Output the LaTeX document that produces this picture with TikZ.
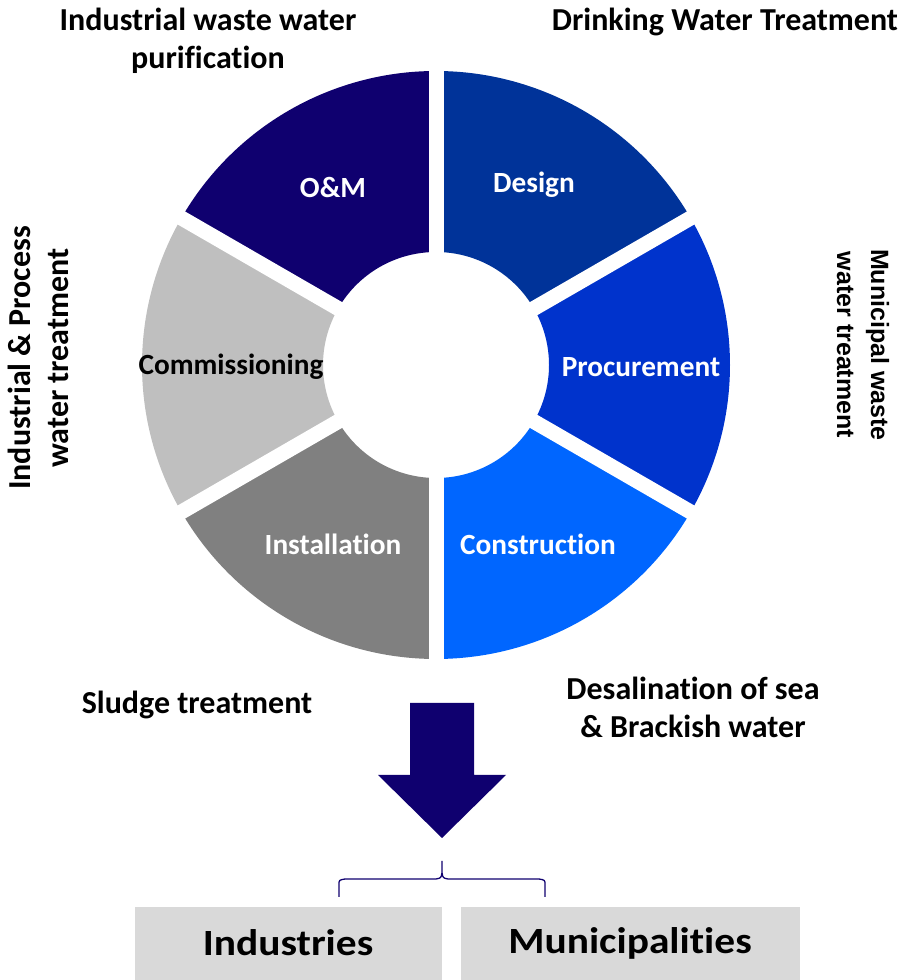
\documentclass[tikz,border=0pt]{standalone}
\usepackage{fontspec}
\usepackage{graphicx}
\setmainfont{Carlito}[Ligatures=CommonOff]
\newfontfamily\arialf{Liberation Sans}
\usetikzlibrary{calc}
\definecolor{cnavy}{HTML}{0F006F}
\definecolor{cdesign}{HTML}{003399}
\definecolor{cproc}{HTML}{0033CC}
\definecolor{cconst}{HTML}{0066FF}
\definecolor{cinst}{HTML}{808080}
\definecolor{ccomm}{HTML}{BFBFBF}
\definecolor{cbox}{HTML}{D9D9D9}
\tikzset{
  seglabel/.style={font=\fontsize{29.3}{34}\selectfont\bfseries, text=white, inner sep=0pt},
  heading/.style={font=\fontsize{32}{38}\selectfont\bfseries, text=black, align=center, inner sep=0pt},
  boxtext/.style={font=\fontsize{37}{44}\selectfont\bfseries, text=black, inner sep=0pt},
  gap/.style={white, line width=15pt},
}
\newcommand{\ringseg}[3]{%
  \fill[#3] ($(C)+(#1:294)$) arc[start angle=#1, end angle=#2, radius=294]
    -- ($(C)+(#2:113)$) arc[start angle=#2, end angle=#1, radius=113] -- cycle;}
\begin{document}
\begin{tikzpicture}[x=1pt,y=1pt]
\useasboundingbox (0,0) rectangle (903,980);
\coordinate (C) at (436,615);
% ring segments
\ringseg{30}{90}{cdesign}
\ringseg{-30}{30}{cproc}
\ringseg{-90}{-30}{cconst}
\ringseg{-150}{-90}{cinst}
\ringseg{150}{210}{ccomm}
\ringseg{90}{150}{cnavy}
% gaps
\foreach \a in {90,30,-30,-90,-150,150}
  \draw[gap] (C) -- ++(\a:300);
% segment labels
\node[seglabel] (om) at (333,792) {O\&M};
\node[seglabel] (design) at (534,795) {Design};
\node[seglabel] (proc) at (641,613) {Procurement};
\node[seglabel] (const) at (538,436) {Construction};
\node[seglabel] (inst) at (333,436) {Installation};
\node[seglabel, text=black] (comm) at (231,613) {Commissioning};
% headings
\node[heading] (h1) at (208,939) {Industrial waste water\\purification};
\node[heading] (h2) at (725,958) {Drinking Water Treatment};
\node[heading, rotate=90] (h3) at (38,622) {Industrial \& Process\\water treatment};
\node[heading, rotate=-90, font=\fontsize{25}{34}\selectfont\bfseries\arialf] (h4) at (863,635) {Municipal waste\\water treatment};
\node[heading] (h5) at (197,275) {Sludge treatment};
\node[heading] (h6) at (693,273) {Desalination of sea\\\& Brackish water};
% arrow
\fill[cnavy] (410,277) -- (474,277) -- (474,205) -- (506,205) -- (442,142) -- (378,205) -- (410,205) -- cycle;
% boxes
\fill[cbox] (135,0) rectangle (442,73);
\fill[cbox] (461,0) rectangle (800,73);
\node[boxtext] (ind) at (288,37) {\scalebox{1.12}[1]{Industries}};
\node[boxtext] (mun) at (630,37) {\scalebox{1.12}[1]{Municipalities}};
% brace
\draw[cnavy, line width=1.3pt] (339,83) -- (339,95) .. controls (339,100) .. (345,101) -- (436,101) .. controls (441,102) .. (442,107) -- (442,119);
\draw[cnavy, line width=1.3pt] (545,83) -- (545,95) .. controls (545,100) .. (539,101) -- (448,101) .. controls (443,102) .. (442,107);
\end{tikzpicture}
\end{document}
